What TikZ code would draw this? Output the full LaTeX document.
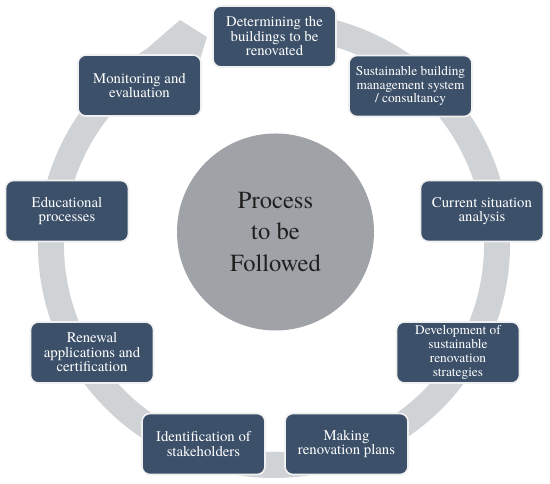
\documentclass[tikz,border=0pt]{standalone}
\usepackage{fontspec}
\setmainfont{texgyretermes}[Extension=.otf, UprightFont=*-regular, BoldFont=*-bold]

\definecolor{boxblue}{HTML}{3C5069}
\definecolor{ringgray}{HTML}{D0D3D6}
\definecolor{centergray}{HTML}{9FA2A7}

\tikzset{
    stepbox/.style={draw=white!88!gray, line width=1.4pt, fill=boxblue, rounded corners=0.24cm,
        minimum width=3.69cm, minimum height=1.83cm, inner sep=1pt, align=center, text=white,
        font=\fontsize{12.6}{12.4}\selectfont},
    smallbox/.style={stepbox, font=\fontsize{11.4}{11.8}\selectfont}
}

\begin{document}
\begin{tikzpicture}[x=0.03cm, y=0.03cm]
    \useasboundingbox (0,0) rectangle (550,484);

    % リング状の矢印を描画
    \fill[ringgray] (233,468.5) arc[start angle=100, end angle=-237.4, x radius=236, y radius=233]
        -- (180,464) -- (207,447) -- (196,412) -- (175.4,421.8)
        arc[start angle=-242, end angle=100, x radius=210, y radius=207] -- cycle;

    % 中央の円を描画
    \node[circle, fill=centergray, minimum size=5.91cm, inner sep=0pt, align=center, text=black!88,
        font=\fontsize{21}{27}\selectfont] (process) at (275.5,252) {Process\\to be\\Followed};

    % ノードを描画
    \node[stepbox] (determine) at (274.5,447.5) {Determining the\\buildings to be\\renovated};
    \node[smallbox] (consult) at (410.5,398) {Sustainable building\\management system\\/ consultancy};
    \node[stepbox] (analysis) at (482,273) {Current situation\\analysis};
    \node[smallbox] (strategy) at (458,131.5) {Development of\\sustainable\\renovation\\strategies};
    \node[stepbox] (plans) at (346.5,40) {Making\\renovation plans};
    \node[stepbox] (stakeholder) at (203.5,40) {Identification of\\stakeholders};
    \node[stepbox] (renewal) at (92,131.5) {Renewal\\applications and\\certification};
    \node[stepbox] (education) at (67,273) {Educational\\processes};
    \node[stepbox] (monitor) at (139.5,398.5) {Monitoring and\\evaluation};
\end{tikzpicture}
\end{document}
